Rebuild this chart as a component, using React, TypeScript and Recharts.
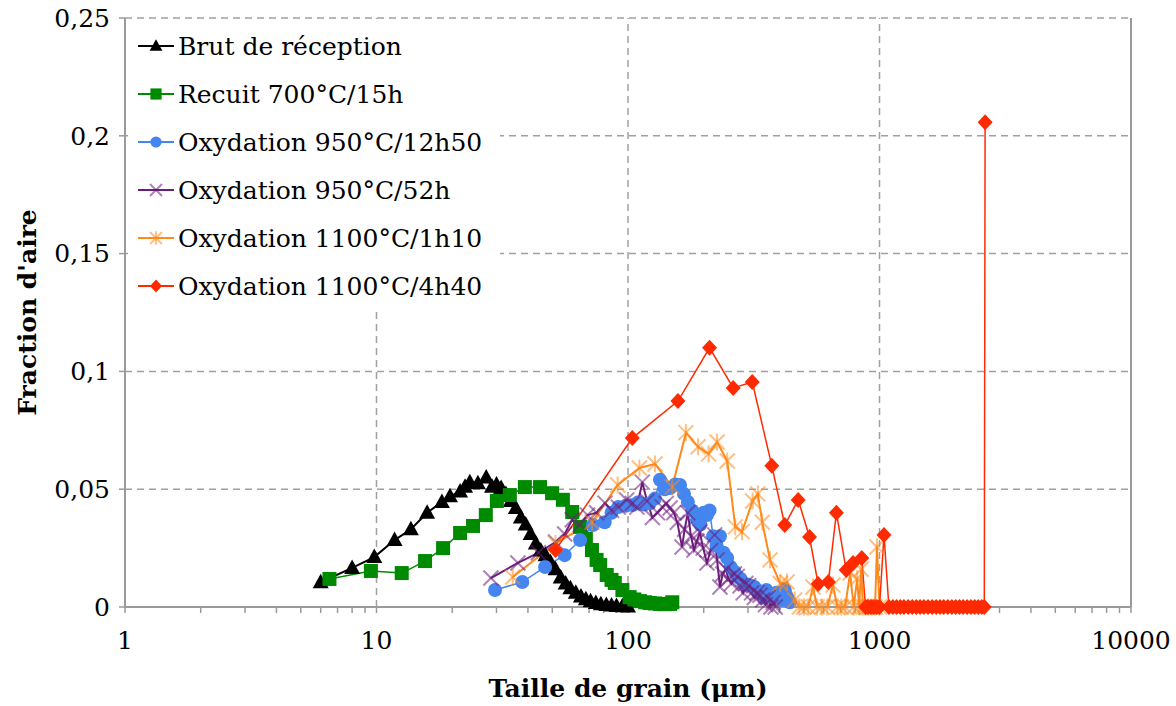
import React from 'react';
import { LineChart, Line, XAxis, YAxis, CartesianGrid, Legend, ReferenceLine } from 'recharts';

const FONT = '"DejaVu Serif", "Liberation Serif", serif';

// Brut de réception
const brutX = [6.0, 8.0, 9.8, 11.8, 13.7, 15.9, 18.2, 19.6, 21.5, 22.5, 23.5, 25.3, 27.3, 28.8, 30, 31.3, 32.7, 34.2, 35.8, 37.5, 39.2, 41, 43, 45, 47, 49.2, 51.5, 54, 56.5, 59, 62, 65, 68, 71, 74.5, 78, 82, 86, 90, 95, 100];
const brutY = [0.0105, 0.0166, 0.0212, 0.0284, 0.033, 0.04, 0.0446, 0.047, 0.049, 0.051, 0.053, 0.0525, 0.055, 0.051, 0.052, 0.0505, 0.048, 0.045, 0.042, 0.038, 0.035, 0.031, 0.027, 0.024, 0.022, 0.019, 0.016, 0.0125, 0.01, 0.008, 0.006, 0.0045, 0.0033, 0.0024, 0.0017, 0.0012, 0.0009, 0.0006, 0.0004, 0.0003, 0.0002];

// Recuit 700°C/15h
const recuitX = [6.5, 9.5, 12.6, 15.6, 18.4, 21.5, 24.2, 27.2, 30.1, 33.9, 38.9, 44.7, 49.9, 55.1, 60, 64.5, 68, 71.9, 75, 77.5, 82.3, 86, 88.6, 95, 101.5, 106, 111.5, 117, 122, 128, 134, 140, 147, 150];
const recuitY = [0.0119, 0.0153, 0.0144, 0.0195, 0.025, 0.0314, 0.0344, 0.039, 0.045, 0.0475, 0.0509, 0.0509, 0.0483, 0.0455, 0.0403, 0.034, 0.029, 0.0242, 0.02, 0.0178, 0.0136, 0.0115, 0.0102, 0.0072, 0.0042, 0.0032, 0.0025, 0.002, 0.0017, 0.0015, 0.0013, 0.0012, 0.0013, 0.002];

// Oxydation 950°C/12h50
const ox950aX = [29.6, 38, 46.8, 56, 64.5, 72.5, 80.8, 86, 91.5, 98, 104.5, 110, 116, 122, 128, 134, 140, 147, 154, 161, 167, 173, 180, 188, 194, 200, 206, 211, 218, 225, 232, 240, 248, 256, 265, 272, 280, 289, 298, 308, 318, 328, 338, 346, 355, 366, 378, 389, 400, 410, 420, 430, 440];
const ox950aY = [0.0072, 0.0106, 0.017, 0.022, 0.0284, 0.0348, 0.036, 0.04, 0.0424, 0.043, 0.0433, 0.0445, 0.0435, 0.044, 0.046, 0.054, 0.05, 0.0505, 0.052, 0.0518, 0.048, 0.0446, 0.041, 0.037, 0.035, 0.04, 0.039, 0.041, 0.03, 0.026, 0.03, 0.023, 0.0208, 0.017, 0.015, 0.013, 0.012, 0.01, 0.0095, 0.009, 0.0085, 0.007, 0.006, 0.004, 0.0072, 0.005, 0.004, 0.006, 0.0055, 0.003, 0.0072, 0.004, 0.002];

// Oxydation 950°C/52h
const ox950bX = [28.5, 36.5, 44, 51.5, 56, 60, 64.5, 69, 75, 81, 86, 91.5, 98.8, 104, 108.5, 114, 119, 125, 131, 137, 142, 147, 152, 157, 164, 168, 173, 178, 183, 188, 193, 199, 206, 213, 221, 226, 232, 238, 245, 251, 258, 265, 272, 279, 287, 294, 302, 310, 318, 326, 335, 343, 352, 360, 370, 378, 385];
const ox950bY = [0.0123, 0.0187, 0.023, 0.0276, 0.031, 0.037, 0.035, 0.039, 0.04, 0.0441, 0.041, 0.0424, 0.0454, 0.044, 0.0424, 0.053, 0.045, 0.038, 0.04, 0.0424, 0.044, 0.042, 0.04, 0.036, 0.0255, 0.033, 0.04, 0.03, 0.0242, 0.028, 0.0318, 0.025, 0.0187, 0.024, 0.0306, 0.02, 0.0085, 0.014, 0.016, 0.012, 0.01, 0.014, 0.013, 0.009, 0.006, 0.01, 0.009, 0.006, 0.004, 0.006, 0.005, 0.003, 0.001, 0.004, 0, 0.002, 0];

// Oxydation 1100°C/1h10
const ox1100aX = [34.8, 51.5, 72, 91, 111, 128, 150, 170, 190, 209, 226, 248, 267, 284, 313, 328, 342, 367, 403, 429, 460, 480, 500, 520, 544, 565, 590, 620, 653, 680, 705, 730, 764, 790, 815, 830, 845, 860, 880, 900, 930, 960, 977, 1000];
const ox1100aY = [0.0127, 0.027, 0.036, 0.0518, 0.059, 0.0607, 0.051, 0.074, 0.068, 0.065, 0.07, 0.062, 0.034, 0.032, 0.045, 0.048, 0.036, 0.02, 0.01, 0.0106, 0.003, 0, 0, 0, 0.0085, 0, 0, 0, 0.0093, 0, 0, 0, 0.0144, 0, 0.012, 0, 0.016, 0, 0, 0, 0, 0, 0.0255, 0];

// Oxydation 1100°C/4h40
const ox1100bX = [51.5, 104, 158, 211, 262, 312, 373, 420, 475, 527, 570, 626, 674, 737, 785, 850, 880, 900, 925, 950, 975, 1000, 1042, 1090, 1130, 1170, 1210, 1250, 1300, 1350, 1400, 1450, 1500, 1560, 1620, 1680, 1740, 1800, 1870, 1940, 2010, 2080, 2150, 2230, 2310, 2390, 2470, 2550, 2610, 2630];
const ox1100bY = [0.0242, 0.0717, 0.0874, 0.11, 0.093, 0.0955, 0.06, 0.0348, 0.0454, 0.0297, 0.0098, 0.0106, 0.04, 0.0157, 0.0187, 0.0208, 0, 0, 0, 0, 0, 0, 0.0306, 0, 0, 0, 0, 0, 0, 0, 0, 0, 0, 0, 0, 0, 0, 0, 0, 0, 0, 0, 0, 0, 0, 0, 0, 0, 0, 0.2058];

const decades = [1, 10, 100, 1000, 10000];
const gridDecades = [10, 100, 1000];
const yTicks = [0, 0.05, 0.1, 0.15, 0.2, 0.25];

const minorTicks = decades.slice(0, -1).flatMap(d => [2, 3, 4, 5, 6, 7, 8, 9].map(k => k * d));
const xTicks = [...decades, ...minorTicks].sort((a, b) => a - b);

const zip = (xs: number[], ys: number[]) => xs.map((x, i) => ({ x, y: ys[i] }));

type Shape = 'triangle' | 'square' | 'circle' | 'cross' | 'star' | 'diamond';

const series: { name: string; color: string; shape: Shape; width: number; data: { x: number; y: number }[] }[] = [
  { name: 'Brut de réception', color: '#000000', shape: 'triangle', width: 2, data: zip(brutX, brutY) },
  { name: 'Recuit 700°C/15h', color: '#008a00', shape: 'square', width: 1.5, data: zip(recuitX, recuitY) },
  { name: 'Oxydation 950°C/12h50', color: '#4585f0', shape: 'circle', width: 1.5, data: zip(ox950aX, ox950aY) },
  { name: 'Oxydation 950°C/52h', color: '#6c1d7c', shape: 'cross', width: 2, data: zip(ox950bX, ox950bY) },
  { name: 'Oxydation 1100°C/1h10', color: '#ff8a1c', shape: 'star', width: 2, data: zip(ox1100aX, ox1100aY) },
  { name: 'Oxydation 1100°C/4h40', color: '#ff2a00', shape: 'diamond', width: 1.5, data: zip(ox1100bX, ox1100bY) },
];

const Marker = ({ cx, cy, shape, color, s = 1 }: { cx: number; cy: number; shape: Shape; color: string; s?: number }) => {
  if (cx == null || cy == null) return null;
  switch (shape) {
    case 'triangle':
      return <polygon points={`${cx},${cy - 8.5 * s} ${cx - 8 * s},${cy + 6 * s} ${cx + 8 * s},${cy + 6 * s}`} fill={color} />;
    case 'square':
      return <rect x={cx - 7 * s} y={cy - 7 * s} width={14 * s} height={14 * s} fill={color} />;
    case 'circle':
      return <circle cx={cx} cy={cy} r={7 * s} fill={color} />;
    case 'cross':
      return (
        <g stroke={color} strokeWidth={2} strokeOpacity={0.55}>
          <line x1={cx - 7.5 * s} y1={cy - 7.5 * s} x2={cx + 7.5 * s} y2={cy + 7.5 * s} />
          <line x1={cx - 7.5 * s} y1={cy + 7.5 * s} x2={cx + 7.5 * s} y2={cy - 7.5 * s} />
        </g>
      );
    case 'star':
      return (
        <g stroke={color} strokeWidth={2} strokeOpacity={0.55}>
          <line x1={cx - 7.5 * s} y1={cy - 7.5 * s} x2={cx + 7.5 * s} y2={cy + 7.5 * s} />
          <line x1={cx - 7.5 * s} y1={cy + 7.5 * s} x2={cx + 7.5 * s} y2={cy - 7.5 * s} />
          <line x1={cx} y1={cy - 8.5 * s} x2={cx} y2={cy + 8.5 * s} />
        </g>
      );
    case 'diamond':
      return <polygon points={`${cx},${cy - 8 * s} ${cx + 7.5 * s},${cy} ${cx},${cy + 8 * s} ${cx - 7.5 * s},${cy}`} fill={color} />;
  }
  return null;
};

const LegendBox = () => (
  <div style={{ background: '#fff', fontFamily: FONT, fontSize: 25, color: '#000', paddingLeft: 8 }}>
    {series.map(s => (
      <div key={s.name} style={{ display: 'flex', alignItems: 'center', height: 48, whiteSpace: 'nowrap' }}>
        <svg width={40} height={20} style={{ marginRight: 2, overflow: 'visible' }}>
          <line x1={2} y1={10} x2={38} y2={10} stroke={s.color} strokeWidth={2} />
          <Marker cx={20} cy={10} shape={s.shape} color={s.color} s={0.8} />
        </svg>
        <span>{s.name}</span>
      </div>
    ))}
  </div>
);

export default function App() {
  return (
    <div style={{ position: 'absolute', left: 0, top: 0, background: '#fff' }}>
      <LineChart width={1176} height={706} margin={{ top: 18, right: 45, left: 0, bottom: 0 }}>
        <CartesianGrid vertical={false} stroke="#a0a0a0" strokeWidth={1.5} strokeDasharray="7 5" />
        {gridDecades.map(d => (
          <ReferenceLine key={d} x={d} stroke="#a0a0a0" strokeWidth={1.5} strokeDasharray="7 5" />
        ))}
        <ReferenceLine x={10000} stroke="#9a9a9a" strokeWidth={2} />
        <XAxis
          type="number"
          dataKey="x"
          scale="log"
          domain={[1, 10000]}
          allowDataOverflow
          ticks={xTicks}
          interval={0}
          tickFormatter={(v: number) => (decades.includes(v) ? String(v) : '')}
          height={99}
          tickSize={6}
          tickMargin={18}
          axisLine={{ stroke: '#9a9a9a', strokeWidth: 2 }}
          tickLine={{ stroke: '#9a9a9a', strokeWidth: 1.5 }}
          tick={{ fill: '#000', fontSize: 25, fontFamily: FONT }}
          label={{ value: 'Taille de grain (μm)', position: 'insideBottom', offset: 9, style: { fontWeight: 'bold', fontSize: 25, fontFamily: FONT, fill: '#000' } }}
        />
        <YAxis
          type="number"
          dataKey="y"
          domain={[0, 0.25]}
          ticks={yTicks}
          interval={0}
          tickFormatter={(v: number) => String(v).replace('.', ',')}
          width={125}
          tickSize={6}
          tickMargin={9}
          axisLine={{ stroke: '#9a9a9a', strokeWidth: 2 }}
          tickLine={{ stroke: '#9a9a9a', strokeWidth: 1.5 }}
          tick={{ fill: '#000', fontSize: 25, fontFamily: FONT }}
          label={{ value: "Fraction d'aire", angle: -90, position: 'insideLeft', offset: 27, style: { textAnchor: 'middle', fontWeight: 'bold', fontSize: 25, fontFamily: FONT, fill: '#000' } }}
        />
        <Legend
          layout="horizontal"
          verticalAlign="middle"
          align="center"
          content={<LegendBox />}
          wrapperStyle={{ left: 128, top: 22, width: 372, height: 290, background: '#fff' }}
        />
        {series.map(s => (
          <Line
            key={s.name}
            data={s.data}
            dataKey="y"
            name={s.name}
            type="linear"
            stroke={s.color}
            strokeWidth={s.width}
            isAnimationActive={false}
            activeDot={false}
            dot={(p: any) => <Marker key={`${s.name}-${p.index}`} cx={p.cx} cy={p.cy} shape={s.shape} color={s.color} />}
          />
        ))}
      </LineChart>
    </div>
  );
}
